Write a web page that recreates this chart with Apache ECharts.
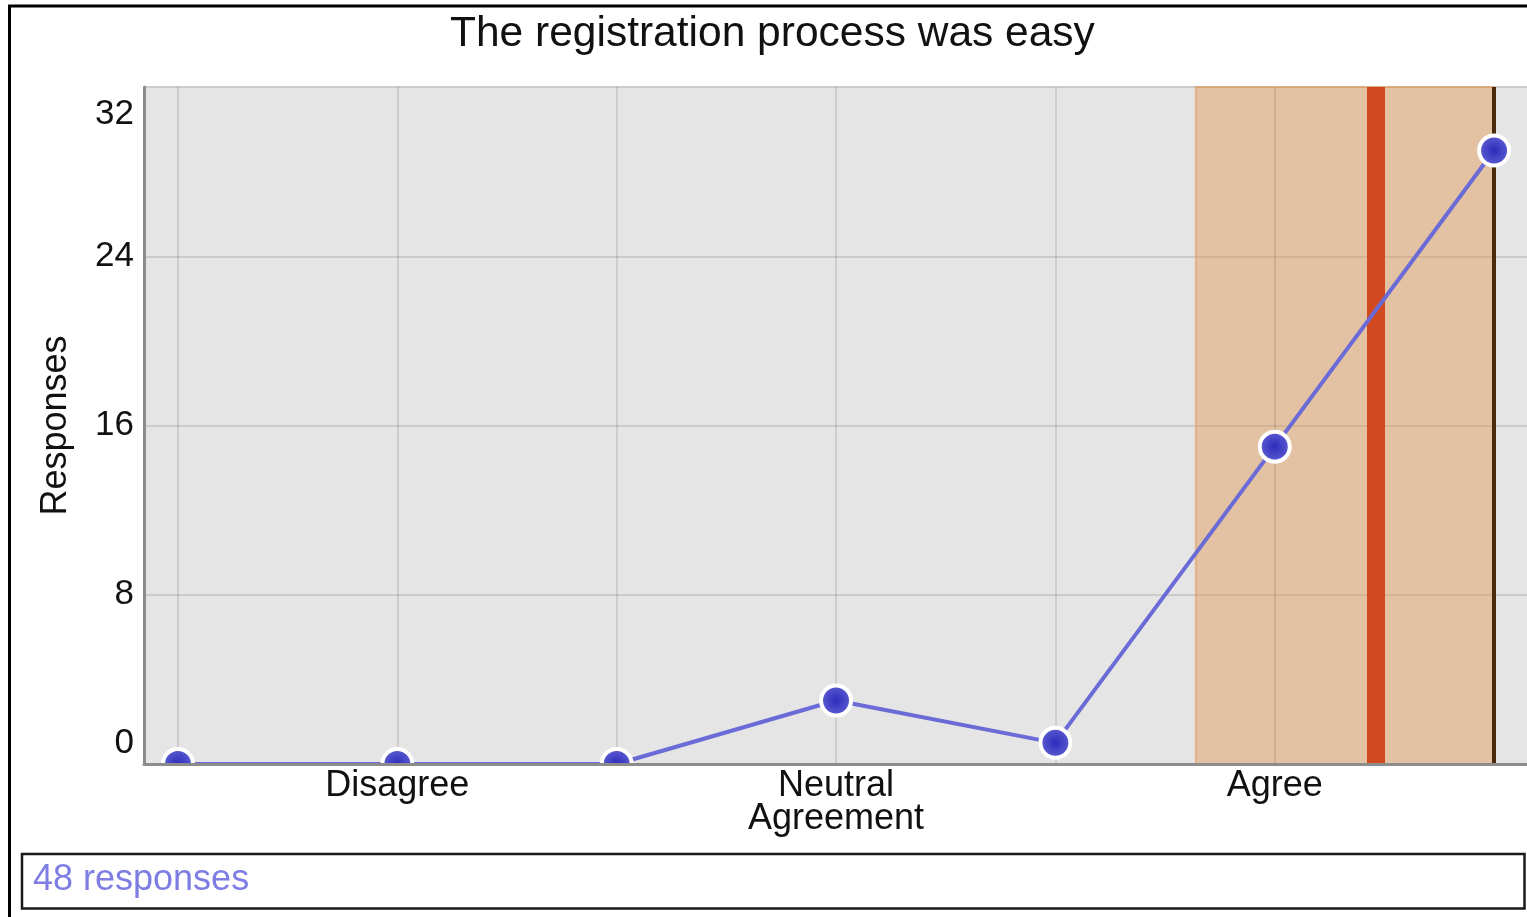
<!DOCTYPE html>
<html><head><meta charset="utf-8">
<script src="https://cdn.jsdelivr.net/npm/echarts@6/dist/echarts.min.js"></script>
<style>html,body{margin:0;padding:0;background:#fff}#c{width:1527px;height:917px}</style>
</head><body><div id="c"></div>
<script>
// ---- data ----
const titleText = 'The registration process was easy';
const scalePoints = [1, 2, 3, 4, 5, 6, 7];
const responseCounts = [0, 0, 0, 3, 1, 15, 29];
const xLabelPositions = [2, 4, 6];
const xLabelTexts = ['Disagree', 'Neutral\nAgreement', 'Agree'];
const yTickValues = [0, 8, 16, 24, 32];
const sdBand = [5.64, 7];      // shaded band (mean ± sd, capped at 7)
const meanValue = 6.46;        // red line
const medianValue = 7;         // dark line
const yAxisName = 'Responses';
const responsesSuffix = ' responses';

// ---- chart ----
const FONT = '"Liberation Sans", Arial, sans-serif';
const total = responseCounts.reduce((a, b) => a + b, 0);
const chart = echarts.init(document.getElementById('c'), null, { renderer: 'canvas' });

const gridMarkLines = scalePoints.map(v => ({
  xAxis: v,
  lineStyle: { color: 'rgba(0,0,0,0.10)', width: 2, type: 'solid' }
}));

chart.setOption({
  animation: false,
  backgroundColor: '#ffffff',
  textStyle: { fontFamily: FONT },
  title: {
    text: titleText,
    left: 450, top: 13, padding: 0,
    textStyle: { fontFamily: FONT, fontSize: 42.5, fontWeight: 'normal', color: '#111' }
  },
  grid: {
    left: 144, top: 87, right: 0, bottom: 153,
    show: true, backgroundColor: '#e5e5e5', borderWidth: 0
  },
  xAxis: {
    type: 'value', min: 0.845, max: 7.15, z: 4,
    axisLine: { show: true, onZero: false, lineStyle: { color: '#8c8c8c', width: 3 } },
    axisTick: { show: false },
    splitLine: { show: false },
    axisLabel: {
      customValues: xLabelPositions,
      formatter: v => { const i = xLabelPositions.indexOf(Math.round(v)); return i >= 0 ? xLabelTexts[i] : ''; },
      fontFamily: FONT, fontSize: 36, color: '#111', lineHeight: 33, margin: 6
    }
  },
  yAxis: {
    type: 'value', min: yTickValues[0], max: yTickValues[yTickValues.length - 1], interval: 8,
    name: yAxisName, nameLocation: 'middle', nameRotate: 90, nameGap: 70,
    nameTextStyle: { fontFamily: FONT, fontSize: 36, color: '#111' },
    axisLine: { show: true, lineStyle: { color: '#8c8c8c', width: 3 } },
    axisTick: { show: false },
    splitLine: { show: true, lineStyle: { color: '#cbcbcb', width: 2 } },
    axisLabel: {
      fontFamily: FONT, fontSize: 35, color: '#111', margin: 10,
      formatter: v => v === yTickValues[yTickValues.length - 1] ? '{top|' + v + '}' : (v === yTickValues[0] ? '{bot|' + v + '}' : String(v)),
      rich: {
        top: { fontFamily: FONT, fontSize: 35, color: '#111', padding: [54, 0, 0, 0] },
        bot: { fontFamily: FONT, fontSize: 35, color: '#111', padding: [0, 0, 42, 0] }
      }
    }
  },
  series: [
    {
      type: 'line', data: [], z: 1, silent: true,
      markArea: {
        silent: true, z: 1,
        itemStyle: { color: 'rgba(222,150,80,0.45)', borderColor: 'rgba(230,150,80,0.5)', borderWidth: 2 },
        data: [[{ xAxis: sdBand[0] }, { xAxis: sdBand[1] }]]
      },
      markLine: {
        silent: true, z: 1.5, symbol: ['none', 'none'], animation: false,
        label: { show: false },
        data: gridMarkLines.concat([
          { xAxis: meanValue, lineStyle: { color: '#d0491f', width: 18, type: 'solid' } },
          { xAxis: medianValue, lineStyle: { color: '#4a2a0c', width: 4, type: 'solid' } }
        ])
      }
    },
    {
      type: 'line', z: 2, clip: false,
      data: scalePoints.map((x, i) => [x, responseCounts[i]]),
      symbol: 'circle', symbolSize: 30,
      lineStyle: { color: '#6b6bd8', width: 4 },
      itemStyle: {
        color: new echarts.graphic.RadialGradient(0.5, 0.5, 0.5, [
          { offset: 0, color: '#2c2cbc' }, { offset: 1, color: '#6262d4' }
        ]),
        borderColor: '#ffffff', borderWidth: 4
      },
      emphasis: { disabled: true }
    }
  ],
  graphic: [
    { type: 'rect', z: 3, silent: true, shape: { x: 145, y: 766, width: 1400, height: 84 }, style: { fill: '#ffffff' } },
    { type: 'rect', z: 10, silent: true, shape: { x: 9.5, y: 6, width: 2000, height: 2000 }, style: { fill: null, stroke: '#000', lineWidth: 3 } },
    { type: 'rect', z: 10, silent: true, shape: { x: 22, y: 854, width: 1502.5, height: 54.5 }, style: { fill: '#fff', stroke: '#1a1a1a', lineWidth: 2.5 } },
    { type: 'text', z: 11, silent: true, x: 33, y: 880, style: { text: total + responsesSuffix, fontFamily: FONT, fontSize: 36, fill: '#7d7de3', verticalAlign: 'middle' } }
  ]
});
</script>
</body></html>
